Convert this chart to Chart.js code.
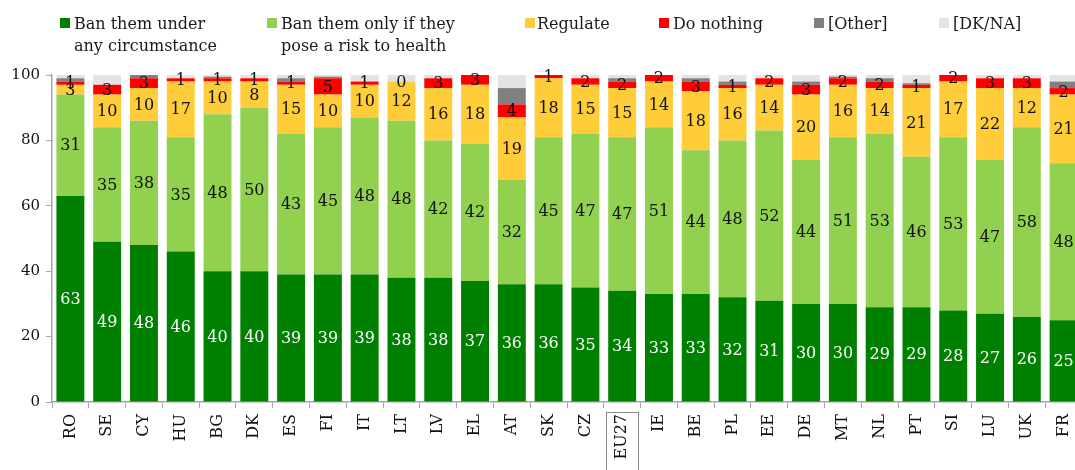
<!DOCTYPE html>
<html>
<head>
<meta charset="utf-8">
<script src="https://cdn.jsdelivr.net/npm/chart.js@4.4.1/dist/chart.umd.min.js"></script>
<style>
  html, body { margin: 0; padding: 0; background: #fff; overflow: hidden; }
  #wrap { position: relative; width: 1090px; height: 470px; }
  #legend { position: absolute; left: 0; top: 0; width: 1075px; height: 70px; font-family: "DejaVu Serif", serif; font-size: 16px; line-height: 22px; color: #1a1a1a; }
  .sw { position: absolute; top: 18px; width: 10px; height: 10px; }
  .lt { position: absolute; top: 13px; white-space: nowrap; }
  canvas { position: absolute; left: 0; top: 0; }
</style>
</head>
<body>
<div id="wrap">
  <canvas id="c" width="1090" height="470"></canvas>
  <div id="legend"></div>
</div>
<script>
const categories = ["RO","SE","CY","HU","BG","DK","ES","FI","IT","LT","LV","EL","AT","SK","CZ","EU27","IE","BE","PL","EE","DE","MT","NL","PT","SI","LU","UK","FR"];
const seriesNames = [["Ban them under","any circumstance"],["Ban them only if they","pose a risk to health"],"Regulate","Do nothing","[Other]","[DK/NA]"];
const banAny =    [63,49,48,46,40,40,39,39,39,38,38,37,36,36,35,34,33,33,32,31,30,30,29,29,28,27,26,25];
const banIfRisk = [31,35,38,35,48,50,43,45,48,48,42,42,32,45,47,47,51,44,48,52,44,51,53,46,53,47,58,48];
const regulate =  [3,10,10,17,10,8,15,10,10,12,16,18,19,18,15,15,14,18,16,14,20,16,14,21,17,22,12,21];
const doNothing = [1,3,3,1,1,1,1,5,1,0,3,3,4,1,2,2,2,3,1,2,3,2,2,1,2,3,3,2];
const other =     [1,0,1,0,0.5,0,1,0.5,0,0,0,0.5,5,0,0,1,0,1,1,0,1,0.5,1,0.5,0,0,0,2];
const dkna =      [1,3,0,1,0.5,1,1,1,2,2,1,0,4,0,1,1,0,1,2,1,2,1,1,2.5,0,1,1,2];
const colors = ["#008000","#92D050","#FFCC3A","#FF0000","#808080","#E3E3E3"];
const highlightLabel = "EU27";

// HTML legend
const legendPos = [[60,74],[267,281],[525,537],[659,673],[814,828],[939,953]];
const legendEl = document.getElementById('legend');
seriesNames.forEach((n, i) => {
  const sw = document.createElement('div');
  sw.className = 'sw';
  sw.style.left = legendPos[i][0] + 'px';
  sw.style.background = colors[i];
  legendEl.appendChild(sw);
  const t = document.createElement('div');
  t.className = 'lt';
  t.style.left = legendPos[i][1] + 'px';
  t.innerHTML = Array.isArray(n) ? n.join('<br>') : n;
  legendEl.appendChild(t);
});

const values = [banAny, banIfRisk, regulate, doNothing, other, dkna];
const datasets = values.map((v, i) => ({
  label: Array.isArray(seriesNames[i]) ? seriesNames[i].join(' ') : seriesNames[i],
  data: v,
  backgroundColor: colors[i],
  borderWidth: 0,
  barPercentage: 0.76,
  categoryPercentage: 1.0
}));

const labelPlugin = {
  id: 'segLabels',
  afterDatasetsDraw(chart) {
    const ctx = chart.ctx;
    ctx.save();
    ctx.font = '16px "DejaVu Serif"';
    ctx.textAlign = 'center';
    ctx.textBaseline = 'middle';
    for (let d = 0; d < 4; d++) {
      const meta = chart.getDatasetMeta(d);
      ctx.fillStyle = d === 0 ? '#ffffff' : '#111111';
      meta.data.forEach((el, i) => {
        const v = chart.data.datasets[d].data[i];
        const p = el.getProps(['x','y','base'], true);
        ctx.fillText(String(v), p.x, (p.y + p.base) / 2 + 1);
      });
    }
    ctx.restore();
  },
  afterDraw(chart) {
    const xs = chart.scales.x;
    const idx = chart.data.labels.indexOf(highlightLabel);
    if (idx < 0) return;
    const x = xs.getPixelForTick(idx);
    const ctx = chart.ctx;
    ctx.save();
    ctx.strokeStyle = '#8a8a8a';
    ctx.lineWidth = 1;
    ctx.strokeRect(Math.round(x - 16) + 0.5, 412.5, 32, 60);
    ctx.restore();
  }
};

new Chart(document.getElementById('c'), {
  type: 'bar',
  data: { labels: categories, datasets },
  options: {
    responsive: false,
    animation: false,
    layout: { padding: { top: 75, right: 8, left: 0, bottom: 0 } },
    plugins: { legend: { display: false }, tooltip: { enabled: false } },
    scales: {
      x: {
        stacked: true,
        grid: { display: true, drawOnChartArea: false, drawTicks: true, tickLength: 6, color: '#A6A6A6', offset: true },
        border: { display: true, color: '#A6A6A6', width: 1.5 },
        ticks: { autoSkip: false, maxRotation: 90, minRotation: 90, padding: 6, color: '#111', font: { family: 'DejaVu Serif', size: 16 } },
        afterFit(s) { s.height = 68; }
      },
      y: {
        stacked: true,
        min: 0, max: 100,
        grid: { display: true, drawOnChartArea: false, drawTicks: true, tickLength: 6, color: '#A6A6A6' },
        border: { display: true, color: '#A6A6A6', width: 1.5 },
        ticks: { stepSize: 20, padding: 6, color: '#111', font: { family: 'DejaVu Serif', size: 15 } },
        afterFit(s) { s.width = 52; }
      }
    }
  },
  plugins: [labelPlugin]
});
</script>
</body>
</html>
